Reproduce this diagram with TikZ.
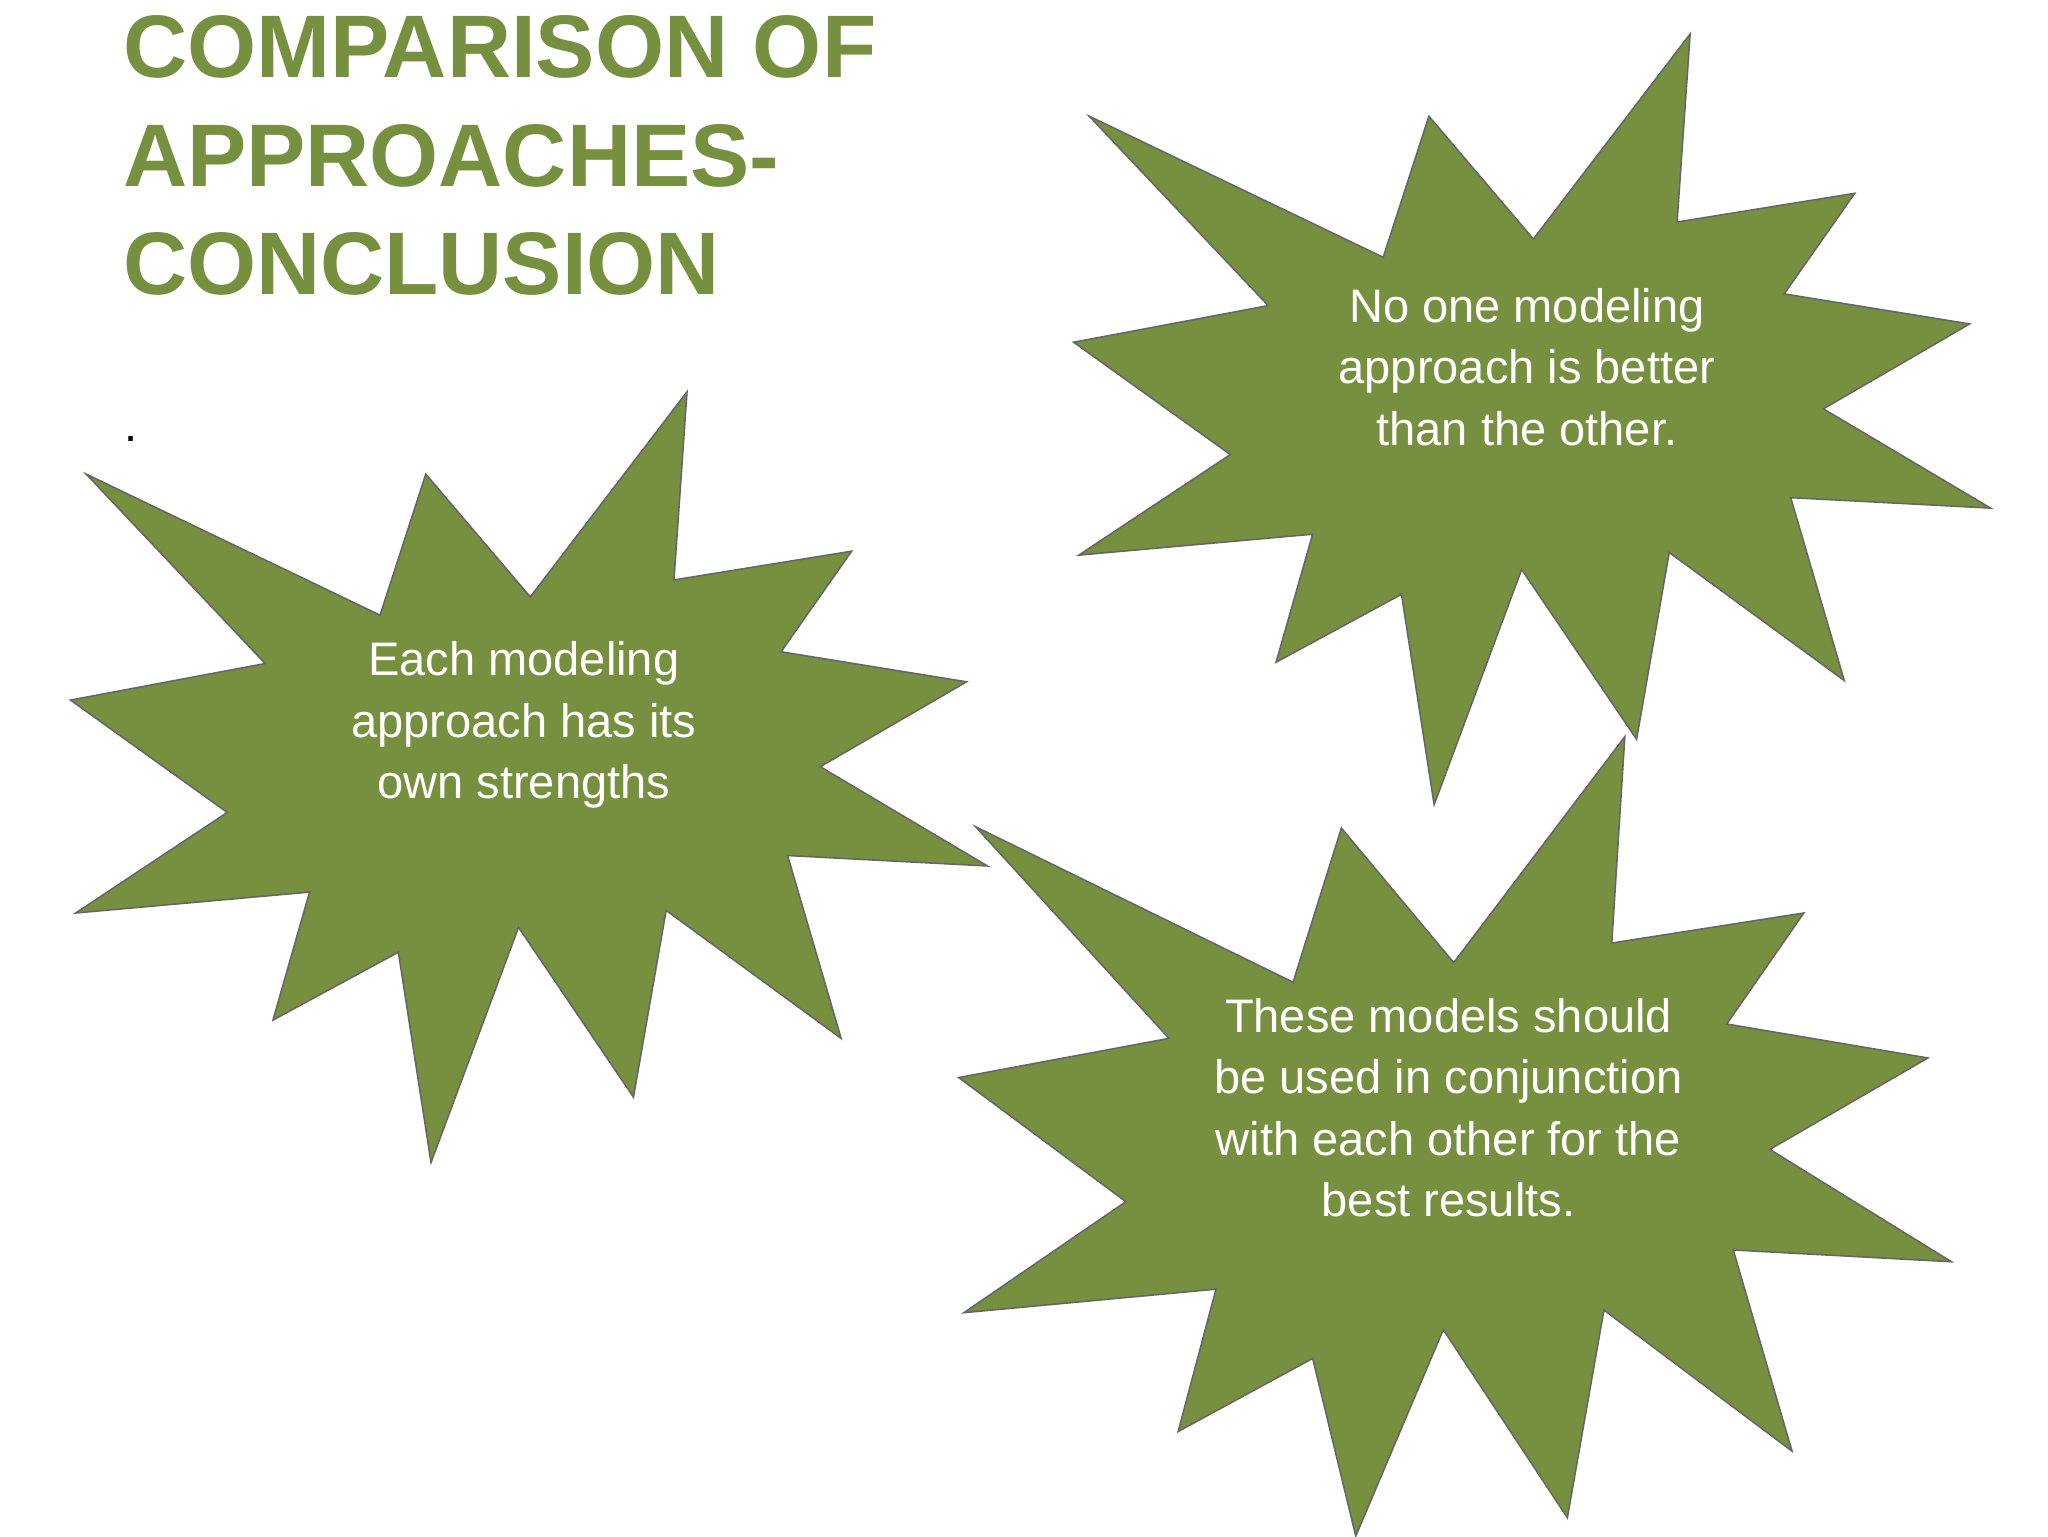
\documentclass[tikz,border=0pt]{standalone}
\usepackage{fontspec}
\setmainfont{Liberation Sans}
\definecolor{olive}{HTML}{77903F}
\tikzset{star/.style={fill=olive,draw=black!60,line width=1.2pt,line join=miter},
 txt/.style={text=white,align=center,font=\fontsize{36}{47}\selectfont}}
\begin{document}
\begin{tikzpicture}[x=1pt,y=-1pt]
\useasboundingbox[fill=white] (0,0) rectangle (1568,1176);
\node[anchor=north west,align=left,text=olive,font=\bfseries\fontsize{68}{83}\selectfont,inner sep=0] (title) at (94,12) {COMPARISON OF\\APPROACHES-\\CONCLUSION};
\node[font=\fontsize{36}{40}\selectfont,inner sep=0] (dot) at (100,336) {.};
\def\starpath{(66,363) -- (291,471) -- (326,363) -- (406,457) -- (526,300) -- (516,444) -- (652,422) -- (598,499) -- (740,522) -- (628,587) -- (756,663) -- (603,655) -- (644,795) -- (510,697) -- (485,840) -- (397,710) -- (330,890) -- (305,729) -- (209,781) -- (237,683) -- (58,699) -- (174,622) -- (54,536) -- (203,508) -- cycle}
\draw[star] \starpath;
\draw[star,shift={(768,-274)}] \starpath;
\draw[star] (747,633) -- (990,752) -- (1027,634) -- (1113,737) -- (1244,564) -- (1234,722) -- (1381,699) -- (1322,784) -- (1476,810) -- (1355,880) -- (1494,966) -- (1327,957) -- (1372,1111) -- (1228,1003) -- (1200,1162) -- (1105,1018) -- (1038,1176) -- (1005,1040) -- (902,1096) -- (931,987) -- (738,1005) -- (862,920) -- (734,825) -- (895,795) -- cycle;
\node[txt] (a) at (401,555) {Each modeling\\approach has its\\own strengths};
\node[txt] (b) at (1169,281) {No one modeling\\approach is better\\than the other.};
\node[txt] (c) at (1109,848) {These models should\\be used in conjunction\\with each other for the\\best results.};
\end{tikzpicture}
\end{document}
